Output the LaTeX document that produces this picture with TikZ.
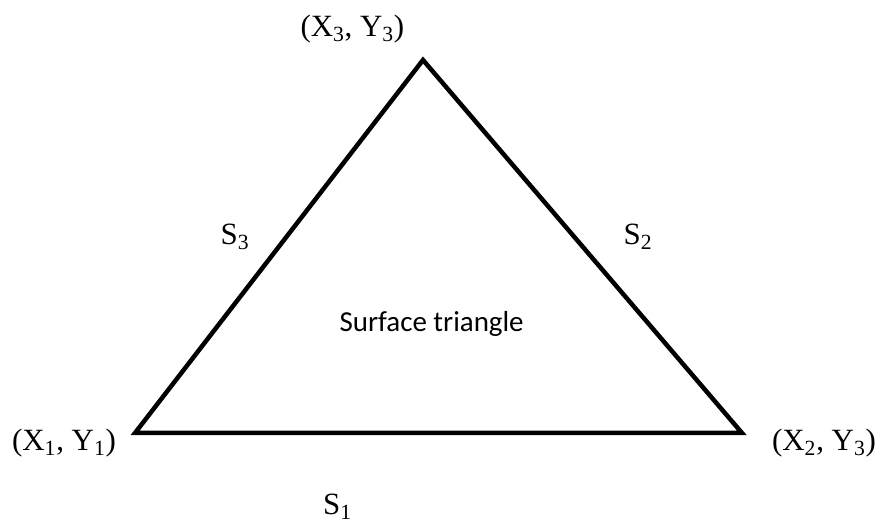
\documentclass[tikz,border=0pt]{standalone}
\usepackage{fontspec}
\setmainfont{Liberation Serif}
\newfontfamily\calibrifont{Carlito}
\usetikzlibrary{positioning}
\tikzstyle{ptlabel} = [font=\fontsize{22}{26}\selectfont, inner sep=0pt, anchor=base]
\tikzstyle{sidelabel} = [font=\fontsize{22}{26}\selectfont, inner sep=0pt, anchor=base]
\tikzstyle{facelabel} = [font=\calibrifont\fontsize{20.6}{24}\selectfont, inner sep=0pt, anchor=base]
\tikzstyle{edge} = [line width=3.2pt]

\begin{document}
\begin{tikzpicture}
    \useasboundingbox (0,0) rectangle (21.925,13.075);

    % Vertices
    \coordinate (p1) at (3.375,2.25);
    \coordinate (p2) at (18.55,2.25);
    \coordinate (p3) at (10.575,11.575);

    % Triangle
    \draw[edge] (p1) -- (p2) -- (p3) -- cycle;

    % Vertex labels
    \node[ptlabel] (c1) at (1.6,1.8) {(X\textsubscript{1}, Y\textsubscript{1})};
    \node[ptlabel] (c2) at (20.6,1.8) {(X\textsubscript{2}, Y\textsubscript{3})};
    \node[ptlabel] (c3) at (8.81,12.15) {(X\textsubscript{3}, Y\textsubscript{3})};

    % Side labels
    \node[sidelabel] (s1) at (8.44,0.2) {S\textsubscript{1}};
    \node[sidelabel] (s2) at (15.95,6.95) {S\textsubscript{2}};
    \node[sidelabel] (s3) at (5.875,6.95) {S\textsubscript{3}};

    % Face
    \node[facelabel] (face) at (10.79,4.775) {Surface triangle};
\end{tikzpicture}
\end{document}
